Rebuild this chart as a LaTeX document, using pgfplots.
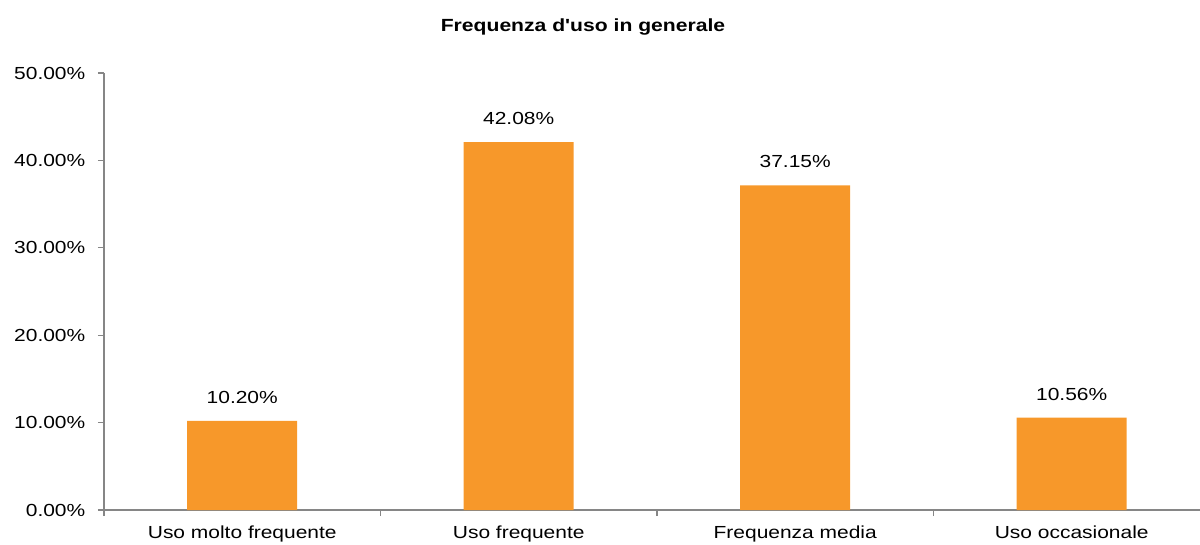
\documentclass[border=0pt]{standalone}
\usepackage{fontspec}
\setmainfont{Liberation Sans}[FakeStretch=1.2]
\newfontfamily\titlefont{Liberation Sans}[FakeStretch=1.2]
\usepackage{pgfplots}
\pgfplotsset{compat=1.18}
\definecolor{barorange}{HTML}{F7982A}
\definecolor{axisgray}{HTML}{868686}
\begin{document}
\begin{tikzpicture}[x=1pt,y=1pt]
\useasboundingbox (-78,-25.5) rectangle (822,382.5);
\begin{axis}[
  at={(0,0)}, anchor=south west,
  scale only axis,
  width=822pt, height=327.75pt,
  xmin=-0.5, xmax=3.464,
  ymin=0, ymax=50,
  axis x line*=bottom, axis y line*=left,
  axis line style={axisgray, line width=0.9pt, -},
  ytick={0,10,20,30,40,50},
  yticklabels={0.00\%,10.00\%,20.00\%,30.00\%,40.00\%,50.00\%},
  xtick={0,1,2,3},
  xticklabels={Uso molto frequente,Uso frequente,Frequenza media,Uso occasionale},
  major tick length=0pt,
  extra x ticks={-0.5,0.5,1.5,2.5},
  extra x tick labels={},
  extra x tick style={major tick length=4.5pt, tick style={axisgray, line width=0.9pt}},
  ytick style={axisgray, line width=0.9pt},
  tick align=outside,
  y tick style={/pgfplots/major tick length=4.5pt},
  every tick label/.append style={font=\fontsize{13.1pt}{15pt}\selectfont, text=black},
  yticklabel style={xshift=-10.5pt},
  xticklabel style={yshift=-8pt},
  ybar, bar width=82.5pt,
  clip=false,
  point meta=explicit symbolic,
  nodes near coords,
  every node near coord/.append style={font=\fontsize{13.1pt}{15pt}\selectfont, text=black, yshift=9.5pt},
]
\addplot[fill=barorange, draw=none] coordinates {(0,10.20) [10.20\%] (1,42.08) [42.08\%] (2,37.15) [37.15\%] (3,10.56) [10.56\%]};
\end{axis}
\node[font=\titlefont\bfseries\fontsize{13.2pt}{15pt}\selectfont] at (359.25,362.25) {Frequenza d'uso in generale};
\end{tikzpicture}
\end{document}
